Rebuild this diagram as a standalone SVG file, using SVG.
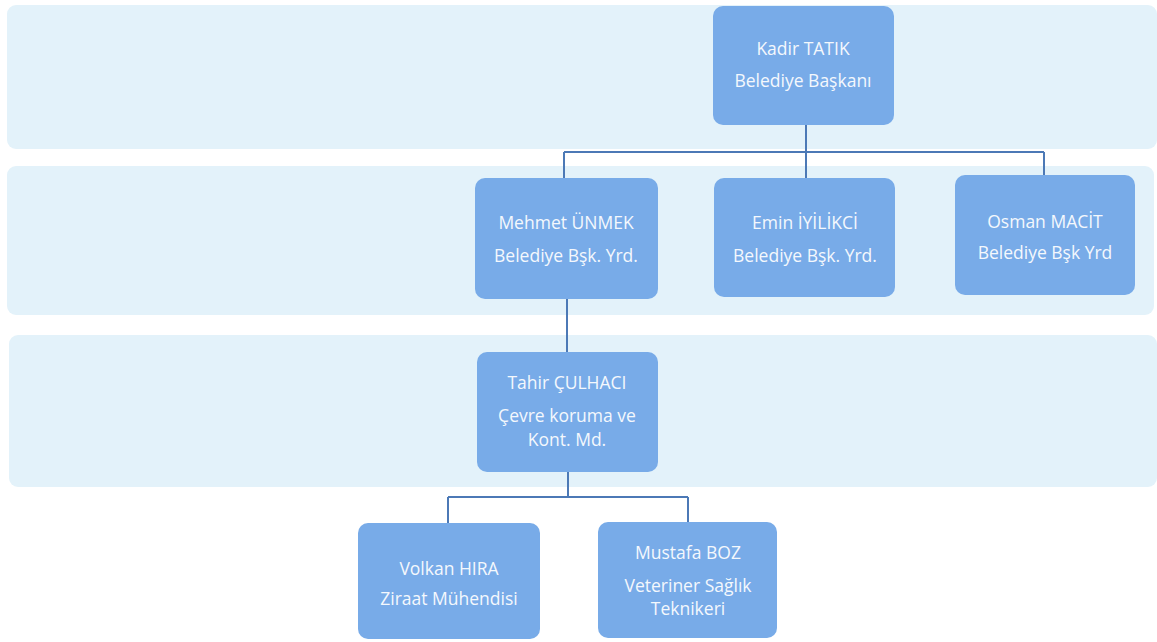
<svg xmlns="http://www.w3.org/2000/svg" width="1157" height="642" viewBox="0 0 1157 642">
<style>
.band{fill:#e3f2fa}
.node rect{fill:#78abe8}
.node text{fill:#f4f8fd;font-family:"Open Sans","Liberation Sans",sans-serif;font-size:17.5px;text-anchor:middle}
.conn{stroke:#4c79b6;stroke-width:2;fill:none}
</style>
<rect width="1157" height="642" fill="#ffffff"/>
<g id="bands">
<rect class="band" x="7" y="5" width="1150" height="144" rx="9"/>
<rect class="band" x="7" y="166" width="1147" height="149" rx="9"/>
<rect class="band" x="9" y="335" width="1148" height="152" rx="9"/>
</g>
<g id="connectors">
<path class="conn" d="M806 125 V178 M564 152 H1044 M564 152 V178 M1044 152 V175"/>
<path class="conn" d="M567 299 V352"/>
<path class="conn" d="M568 472 V497 M448 497 H688 M448 497 V523 M688 497 V522"/>
</g>
<g id="kadir" class="node">
<rect x="713" y="6" width="181" height="119" rx="10"/>
<text x="803" y="55">Kadir TATIK</text>
<text x="803" y="87">Belediye Başkanı</text>
</g>
<g id="mehmet" class="node">
<rect x="475" y="178" width="183" height="121" rx="10"/>
<text x="566" y="229">Mehmet ÜNMEK</text>
<text x="566" y="262">Belediye Bşk. Yrd.</text>
</g>
<g id="emin" class="node">
<rect x="714" y="178" width="181" height="119" rx="10"/>
<text x="805" y="229">Emin İYİLİKCİ</text>
<text x="805" y="262">Belediye Bşk. Yrd.</text>
</g>
<g id="osman" class="node">
<rect x="955" y="175" width="180" height="120" rx="10"/>
<text x="1045" y="228">Osman MACİT</text>
<text x="1045" y="259">Belediye Bşk Yrd</text>
</g>
<g id="tahir" class="node">
<rect x="477" y="352" width="181" height="120" rx="10"/>
<text x="567" y="389">Tahir ÇULHACI</text>
<text x="567" y="422">Çevre koruma ve</text>
<text x="567" y="446">Kont. Md.</text>
</g>
<g id="volkan" class="node">
<rect x="358" y="523" width="182" height="116" rx="10"/>
<text x="449" y="575">Volkan HIRA</text>
<text x="449" y="605">Ziraat Mühendisi</text>
</g>
<g id="mustafa" class="node">
<rect x="598" y="522" width="179" height="116" rx="10"/>
<text x="688" y="559">Mustafa BOZ</text>
<text x="688" y="592">Veteriner Sağlık</text>
<text x="688" y="615">Teknikeri</text>
</g>
</svg>
